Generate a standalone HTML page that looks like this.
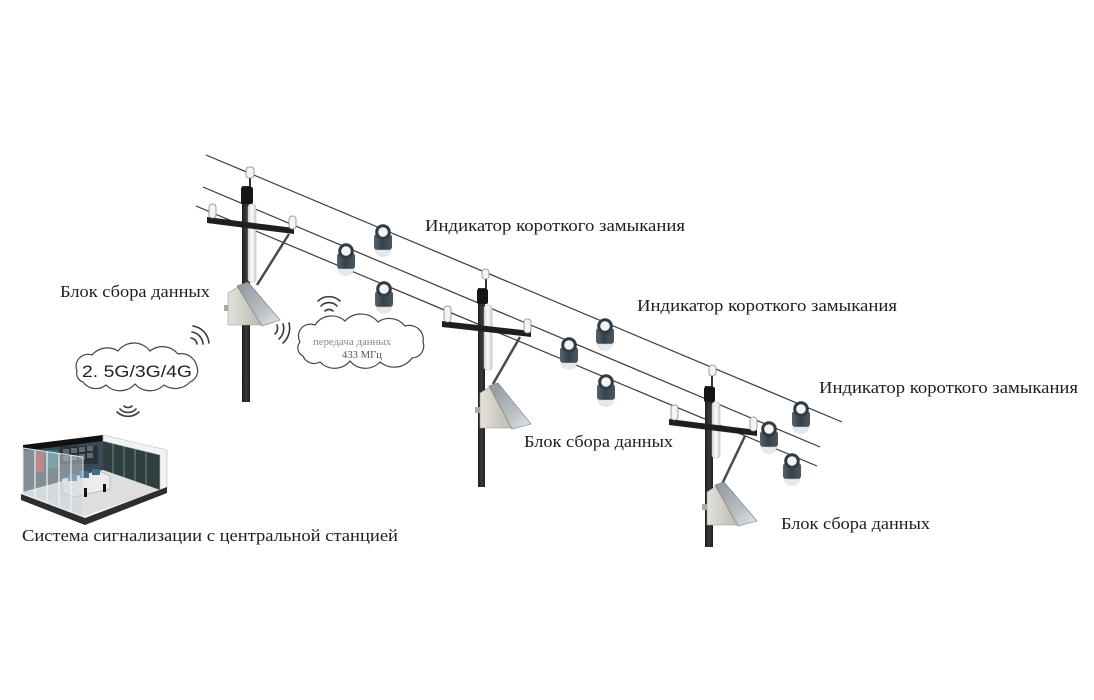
<!DOCTYPE html>
<html>
<head>
<meta charset="utf-8">
<style>
html,body{margin:0;padding:0;background:#fff;}
svg{display:block;}
text{font-family:"Liberation Serif","Noto Serif CJK SC",serif;fill:#1e1e1e;}
</style>
</head>
<body>
<svg width="1094" height="700" viewBox="0 0 1094 700" xmlns="http://www.w3.org/2000/svg">
<defs>
  <linearGradient id="bodyG" x1="0" x2="1" y1="0" y2="0">
    <stop offset="0" stop-color="#56636d"/>
    <stop offset="0.45" stop-color="#36424b"/>
    <stop offset="1" stop-color="#4b5862"/>
  </linearGradient>
  <linearGradient id="panelG" x1="0" x2="1" y1="0" y2="1">
    <stop offset="0" stop-color="#8e969c"/>
    <stop offset="0.6" stop-color="#b9bec2"/>
    <stop offset="1" stop-color="#e6e8ea"/>
  </linearGradient>
  <linearGradient id="boxG" x1="0" x2="1" y1="0" y2="0">
    <stop offset="0" stop-color="#e2e0d8"/>
    <stop offset="1" stop-color="#bdbab0"/>
  </linearGradient>
  <linearGradient id="poleG" x1="0" x2="1" y1="0" y2="0">
    <stop offset="0" stop-color="#1c1c1c"/>
    <stop offset="0.5" stop-color="#3a3a3a"/>
    <stop offset="1" stop-color="#202020"/>
  </linearGradient>
  <linearGradient id="cylG" x1="0" x2="1" y1="0" y2="0">
    <stop offset="0" stop-color="#d8d8d8"/>
    <stop offset="0.5" stop-color="#fafafa"/>
    <stop offset="1" stop-color="#cfcfcf"/>
  </linearGradient>
  <g id="ind">
    <rect x="-9" y="10" width="18" height="16" rx="3" fill="url(#bodyG)"/>
    <path d="M-7.5,26 L7.5,26 Q7.5,31.5 0,32.5 Q-7.5,31.5 -7.5,26 Z" fill="#e6eaec" stroke="#cdd2d5" stroke-width="0.5"/>
    <circle cx="0" cy="8" r="6.3" fill="#f4f4f4" stroke="#333b42" stroke-width="3"/>
  </g>
</defs>

<!-- wires -->
<g stroke="#3a3a3a" stroke-width="1.2" fill="none">
  <line x1="206" y1="155" x2="842" y2="422"/>
  <line x1="203" y1="187" x2="820" y2="447"/>
  <line x1="196" y1="206" x2="817" y2="466"/>
</g>

<!-- Pole 1 -->
<g>
  <line x1="250" y1="176" x2="250" y2="189" stroke="#333" stroke-width="2"/>
  <rect x="242" y="186" width="8" height="216" fill="url(#poleG)"/>
  <rect x="248" y="204" width="8" height="78" rx="3" fill="url(#cylG)" stroke="#bbb" stroke-width="0.6"/>
  <rect x="241" y="187" width="12" height="17" rx="2" fill="#151515"/>
  <rect x="246" y="167" width="8" height="11" rx="3" fill="#f4f4f4" stroke="#888" stroke-width="0.8"/>
  <polygon points="207,217 294,228 294,234 207,223" fill="#1e1e1e"/>
  <rect x="209" y="204" width="7" height="14" rx="3" fill="#f4f4f4" stroke="#888" stroke-width="0.8"/>
  <rect x="289" y="216" width="7" height="13" rx="3" fill="#f4f4f4" stroke="#888" stroke-width="0.8"/>
  <line x1="289" y1="234" x2="257" y2="285" stroke="#4a4a4a" stroke-width="2.5"/>
  <rect x="224" y="305" width="5" height="6" fill="#aaa"/>
  <polygon points="228,293 238,287 262,325 228,325" fill="url(#boxG)" stroke="#9a988f" stroke-width="0.6"/>
  <polygon points="237,286 248,282 280,320 262,326" fill="url(#panelG)" stroke="#777" stroke-width="0.6"/>
</g>

<!-- Pole 2 -->
<g>
  <line x1="486" y1="278" x2="486" y2="291" stroke="#333" stroke-width="2"/>
  <rect x="478" y="288" width="7" height="199" fill="url(#poleG)"/>
  <rect x="484" y="305" width="8" height="65" rx="3" fill="url(#cylG)" stroke="#bbb" stroke-width="0.6"/>
  <rect x="477" y="289" width="11" height="15" rx="2" fill="#151515"/>
  <rect x="482" y="269" width="7" height="10" rx="3" fill="#f4f4f4" stroke="#888" stroke-width="0.8"/>
  <polygon points="442,321 531,331 531,337 442,327" fill="#1e1e1e"/>
  <rect x="444" y="306" width="7" height="16" rx="3" fill="#f4f4f4" stroke="#888" stroke-width="0.8"/>
  <rect x="524" y="319" width="7" height="14" rx="3" fill="#f4f4f4" stroke="#888" stroke-width="0.8"/>
  <line x1="520" y1="337" x2="493" y2="384" stroke="#4a4a4a" stroke-width="2.5"/>
  <rect x="475" y="407" width="5" height="6" fill="#aaa"/>
  <polygon points="480,393 490,387 512,428 480,428" fill="url(#boxG)" stroke="#9a988f" stroke-width="0.6"/>
  <polygon points="489,386 498,383 531,424 512,429" fill="url(#panelG)" stroke="#777" stroke-width="0.6"/>
</g>

<!-- Pole 3 -->
<g>
  <line x1="712" y1="375" x2="712" y2="389" stroke="#333" stroke-width="2"/>
  <rect x="705" y="386" width="8" height="161" fill="url(#poleG)"/>
  <rect x="712" y="402" width="8" height="56" rx="3" fill="url(#cylG)" stroke="#bbb" stroke-width="0.6"/>
  <rect x="704" y="387" width="11" height="15" rx="2" fill="#151515"/>
  <rect x="709" y="365" width="7" height="11" rx="3" fill="#f4f4f4" stroke="#888" stroke-width="0.8"/>
  <polygon points="669,419 757,430 757,436 669,425" fill="#1e1e1e"/>
  <rect x="671" y="405" width="7" height="15" rx="3" fill="#f4f4f4" stroke="#888" stroke-width="0.8"/>
  <rect x="750" y="417" width="7" height="14" rx="3" fill="#f4f4f4" stroke="#888" stroke-width="0.8"/>
  <line x1="745" y1="436" x2="722" y2="484" stroke="#4a4a4a" stroke-width="2.5"/>
  <rect x="702" y="504" width="5" height="6" fill="#aaa"/>
  <polygon points="707,492 716,486 738,525 707,525" fill="url(#boxG)" stroke="#9a988f" stroke-width="0.6"/>
  <polygon points="715,485 724,482 757,521 738,526" fill="url(#panelG)" stroke="#777" stroke-width="0.6"/>
</g>

<!-- Indicators -->
<use href="#ind" x="383" y="224"/>
<use href="#ind" x="346" y="243"/>
<use href="#ind" x="384" y="281"/>
<use href="#ind" x="605" y="318"/>
<use href="#ind" x="569" y="337"/>
<use href="#ind" x="606" y="374"/>
<use href="#ind" x="801" y="401"/>
<use href="#ind" x="769" y="421"/>
<use href="#ind" x="792" y="453"/>

<!-- Clouds -->
<path d="M77,371 A12,12 0 0 1 92,355 A20,20 0 0 1 118,351 A20,20 0 0 1 150,351 A20,20 0 0 1 178,354 A16,16 0 0 1 197,367 A12,12 0 0 1 190,382 A20,20 0 0 1 164,385 A20,20 0 0 1 135,384 A20,20 0 0 1 106,385 A16,16 0 0 1 83,382 A9,9 0 0 1 77,371 Z" fill="#fff" stroke="#444" stroke-width="1.2"/>
<path d="M300,342 A12,12 0 0 1 315,325 A20,20 0 0 1 345,321 A22,22 0 0 1 378,322 A20,20 0 0 1 405,326 A14,14 0 0 1 423,342 A12,12 0 0 1 412,358 A22,22 0 0 1 380,362 A20,20 0 0 1 350,361 A20,20 0 0 1 320,362 A12,12 0 0 1 303,356 A9,9 0 0 1 300,342 Z" fill="#fff" stroke="#444" stroke-width="1.2"/>

<text x="82" y="377" font-size="17" textLength="110" lengthAdjust="spacingAndGlyphs" style="font-family:'Liberation Sans','DejaVu Sans',sans-serif;fill:#222;">2. 5G/3G/4G</text>
<text x="313" y="345" font-size="10" textLength="78" lengthAdjust="spacingAndGlyphs" style="fill:#8a8a8a;">передача данных</text>
<text x="342" y="358" font-size="11" textLength="40" lengthAdjust="spacingAndGlyphs" style="fill:#555;">433 МГц</text>

<!-- Wireless arcs -->
<g fill="none" stroke="#3a3a3a" stroke-width="1.6" stroke-linecap="round">
  <!-- near cloud 1, toward box -->
  <path d="M191,338 A7,7 0 0 1 197,344"/>
  <path d="M192,332 A13,13 0 0 1 203,344"/>
  <path d="M193,326 A19,19 0 0 1 209,343"/>
  <!-- below cloud 1 -->
  <path d="M124,406 A6,6 0 0 0 132,406"/>
  <path d="M120,409 A11,11 0 0 0 136,409"/>
  <path d="M117,412 A16,16 0 0 0 139,412"/>
  <!-- near box pole 1 -->
  <path d="M277,325 A8,8 0 0 1 275,334"/>
  <path d="M283,324 A14,14 0 0 1 279,339"/>
  <path d="M289,323 A20,20 0 0 1 283,343"/>
  <!-- above cloud 2 -->
  <path d="M325,311 A6,6 0 0 1 333,311"/>
  <path d="M321,306 A11,11 0 0 1 337,306"/>
  <path d="M318,301 A16,16 0 0 1 340,301"/>
</g>

<!-- Building (control room) -->
<g>
  <polygon points="23,448 103,438 103,470 23,492" fill="#3c4852"/>
  <rect x="60" y="446" width="38" height="18" fill="#2a3238"/>
  <g fill="#5d6a74"><rect x="63" y="449" width="6" height="5"/><rect x="71" y="448" width="6" height="5"/><rect x="79" y="447" width="6" height="5"/><rect x="87" y="446" width="6" height="5"/><rect x="63" y="456" width="6" height="5"/><rect x="71" y="455" width="6" height="5"/><rect x="79" y="454" width="6" height="5"/><rect x="87" y="453" width="6" height="5"/></g>
  <rect x="46" y="450" width="12" height="18" fill="#2f6f7a"/>
  <polygon points="23,445 103,435 103,441 23,451" fill="#111"/>
  <polygon points="103,438 160,452 160,490 103,470" fill="#2d403e"/>
  <g stroke="#6d8784" stroke-width="1"><line x1="113" y1="443" x2="113" y2="475"/><line x1="124" y1="446" x2="124" y2="479"/><line x1="135" y1="448" x2="135" y2="483"/><line x1="146" y1="451" x2="146" y2="486"/></g>
  <polygon points="103,435 167,450 167,489 160,491 160,455 103,441" fill="#f3f3f3" stroke="#bdbdbd" stroke-width="0.6"/>
  <polygon points="23,493 85,516 160,490 103,470 60,482" fill="#dedede"/>
  <polygon points="62,479 99,471 110,476 110,489 73,497 62,492" fill="#ececec" stroke="#999" stroke-width="0.5"/>
  <rect x="68" y="474" width="9" height="7" fill="#3d6f8c"/>
  <rect x="80" y="471" width="9" height="7" fill="#3d6f8c"/>
  <rect x="92" y="469" width="8" height="6" fill="#3d6f8c"/>
  <rect x="84" y="488" width="3" height="9" fill="#111"/>
  <rect x="103" y="484" width="3" height="8" fill="#111"/>
  <rect x="36" y="452" width="8" height="20" fill="#b13a3a"/>
  <polygon points="23,448 83,457 83,519 23,497" fill="#c8d6da" fill-opacity="0.5" stroke="#e4e4e4" stroke-width="1"/>
  <g stroke="#eef2f3" stroke-width="1.2"><line x1="35" y1="450" x2="35" y2="502"/><line x1="47" y1="452" x2="47" y2="506"/><line x1="59" y1="453" x2="59" y2="510"/><line x1="71" y1="455" x2="71" y2="515"/></g>
  <polygon points="21,494 85,518 167,487 167,493 85,525 21,500" fill="#2e2e2e"/>
</g>

<!-- Labels -->
<text x="425" y="231" font-size="17" textLength="260" lengthAdjust="spacingAndGlyphs">Индикатор короткого замыкания</text>
<text x="637" y="311" font-size="17" textLength="260" lengthAdjust="spacingAndGlyphs">Индикатор короткого замыкания</text>
<text x="819" y="393" font-size="17" textLength="259" lengthAdjust="spacingAndGlyphs">Индикатор короткого замыкания</text>
<text x="60" y="297" font-size="17" textLength="150" lengthAdjust="spacingAndGlyphs">Блок сбора данных</text>
<text x="524" y="447" font-size="17" textLength="149" lengthAdjust="spacingAndGlyphs">Блок сбора данных</text>
<text x="781" y="529" font-size="17" textLength="149" lengthAdjust="spacingAndGlyphs">Блок сбора данных</text>
<text x="22" y="541" font-size="17" textLength="376" lengthAdjust="spacingAndGlyphs">Система сигнализации с центральной станцией</text>
</svg>
</body>
</html>
